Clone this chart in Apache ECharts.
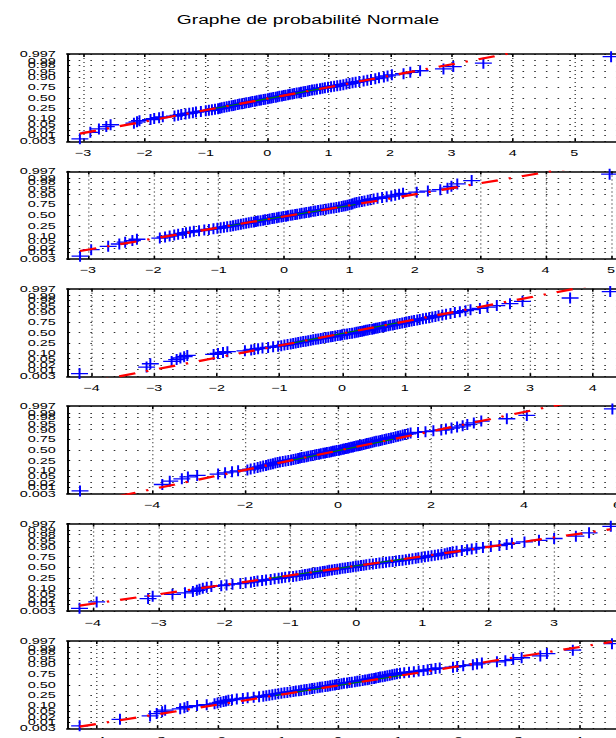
<!DOCTYPE html>
<html><head><meta charset="utf-8">
<script src="https://cdn.jsdelivr.net/npm/echarts@6/dist/echarts.min.js"></script>
<style>
html,body{margin:0;padding:0;background:#fff;overflow:hidden;width:616px;height:738px;}
#wrap{width:616px;height:738px;overflow:hidden;position:relative;background:#fff;}
#chart{position:absolute;left:0;top:0;width:385px;height:738px;transform:scaleX(1.6);transform-origin:0 0;}
</style></head><body><div id="wrap"><div id="chart"></div></div>
<script>
const chartTitle = 'Graphe de probabilité Normale';
const probTicks = [0.003, 0.01, 0.02, 0.05, 0.10, 0.25, 0.50, 0.75, 0.90, 0.95, 0.98, 0.99, 0.997];
const probTickLabels = ['0.003','0.01','0.02','0.05','0.10','0.25','0.50','0.75','0.90','0.95','0.98','0.99','0.997'];

const sample1 = [-3.05,-2.88,-2.74,-2.62,-2.55,-2.17,-2.12,-2.08,-1.90,-1.84,
-1.76,-1.70,-1.51,-1.45,-1.40,-1.33,-1.27,-1.21,-1.16,-1.08,
-1.00,-0.95,-0.90,-0.85,-0.80,-0.77,-0.74,-0.70,-0.66,-0.62,
-0.58,-0.55,-0.52,-0.48,-0.45,-0.41,-0.37,-0.34,-0.30,-0.27,
-0.24,-0.20,-0.17,-0.13,-0.10,-0.06,-0.03,0.01,0.04,0.07,
0.10,0.14,0.17,0.20,0.24,0.27,0.30,0.34,0.37,0.41,
0.44,0.48,0.52,0.55,0.59,0.62,0.66,0.69,0.73,0.77,
0.81,0.86,0.90,0.94,0.99,1.04,1.09,1.14,1.19,1.24,
1.29,1.34,1.39,1.44,1.50,1.57,1.63,1.69,1.76,1.82,
1.90,1.96,2.03,2.22,2.33,2.49,2.87,3.03,3.52,5.60];

const sample2 = [-3.12,-2.95,-2.69,-2.52,-2.43,-2.32,-2.25,-1.90,-1.82,-1.75,
-1.68,-1.62,-1.55,-1.50,-1.44,-1.38,-1.30,-1.22,-1.15,-1.08,
-1.02,-0.97,-0.92,-0.87,-0.82,-0.78,-0.74,-0.70,-0.66,-0.62,
-0.58,-0.54,-0.50,-0.46,-0.43,-0.40,-0.36,-0.32,-0.29,-0.25,
-0.22,-0.18,-0.15,-0.11,-0.08,-0.04,-0.01,0.03,0.06,0.10,
0.13,0.17,0.20,0.24,0.27,0.31,0.34,0.38,0.41,0.45,
0.48,0.52,0.56,0.60,0.64,0.68,0.72,0.76,0.80,0.84,
0.88,0.91,0.94,0.97,1.00,1.03,1.05,1.08,1.11,1.15,
1.19,1.23,1.28,1.32,1.37,1.43,1.50,1.57,1.64,1.70,
1.76,1.82,2.03,2.20,2.39,2.50,2.56,2.65,2.87,4.98];

const sample3 = [-4.19,-3.12,-3.06,-2.72,-2.64,-2.58,-2.52,-2.47,-2.05,-1.98,
-1.90,-1.83,-1.55,-1.45,-1.40,-1.34,-1.27,-1.18,-1.10,-1.02,
-0.97,-0.92,-0.87,-0.82,-0.78,-0.74,-0.70,-0.66,-0.62,-0.58,
-0.54,-0.50,-0.46,-0.42,-0.38,-0.34,-0.30,-0.26,-0.22,-0.18,
-0.15,-0.11,-0.07,-0.03,0.00,0.04,0.08,0.12,0.16,0.20,
0.23,0.26,0.29,0.32,0.35,0.38,0.41,0.44,0.48,0.51,
0.54,0.57,0.60,0.64,0.67,0.70,0.74,0.77,0.81,0.84,
0.88,0.92,0.96,1.00,1.03,1.07,1.11,1.15,1.20,1.24,
1.29,1.34,1.39,1.44,1.49,1.54,1.60,1.66,1.73,1.80,
1.88,1.97,2.05,2.20,2.32,2.47,2.68,2.88,3.64,4.28];

const sample4 = [-5.55,-3.78,-3.62,-3.36,-3.23,-3.03,-2.58,-2.43,-2.28,-2.15,
-1.95,-1.88,-1.80,-1.73,-1.67,-1.61,-1.55,-1.50,-1.45,-1.40,
-1.35,-1.30,-1.25,-1.19,-1.13,-1.07,-1.01,-0.96,-0.91,-0.86,
-0.82,-0.78,-0.73,-0.68,-0.64,-0.59,-0.55,-0.50,-0.46,-0.41,
-0.37,-0.32,-0.28,-0.24,-0.19,-0.15,-0.11,-0.07,-0.03,0.02,
0.06,0.10,0.13,0.17,0.21,0.24,0.28,0.32,0.35,0.39,
0.43,0.47,0.51,0.55,0.59,0.62,0.66,0.70,0.74,0.78,
0.82,0.87,0.91,0.95,1.00,1.04,1.09,1.14,1.19,1.24,
1.29,1.34,1.39,1.44,1.50,1.56,1.72,1.88,2.05,2.22,
2.32,2.44,2.56,2.68,2.78,2.92,3.08,3.63,4.06,5.90];

const sample5 = [-4.20,-3.94,-3.16,-3.09,-2.79,-2.60,-2.48,-2.42,-2.38,-2.33,
-2.27,-2.20,-2.05,-1.97,-1.88,-1.76,-1.68,-1.60,-1.55,-1.50,
-1.43,-1.37,-1.30,-1.24,-1.18,-1.13,-1.08,-1.02,-0.96,-0.91,
-0.86,-0.82,-0.78,-0.74,-0.71,-0.67,-0.63,-0.59,-0.55,-0.51,
-0.48,-0.44,-0.41,-0.37,-0.33,-0.29,-0.25,-0.21,-0.17,-0.13,
-0.09,-0.05,-0.01,0.03,0.07,0.11,0.15,0.20,0.25,0.30,
0.35,0.40,0.45,0.50,0.55,0.60,0.65,0.70,0.75,0.80,
0.85,0.90,0.94,0.99,1.04,1.09,1.14,1.19,1.24,1.29,
1.34,1.38,1.42,1.46,1.52,1.60,1.68,1.75,1.82,1.92,
2.04,2.17,2.28,2.36,2.55,2.77,3.00,3.33,3.53,3.86];

const sample6 = [-4.29,-3.62,-3.12,-3.01,-2.92,-2.87,-2.62,-2.55,-2.50,-2.34,
-2.18,-2.05,-2.00,-1.95,-1.90,-1.86,-1.82,-1.76,-1.68,-1.58,
-1.50,-1.40,-1.31,-1.24,-1.19,-1.14,-1.09,-1.04,-0.99,-0.94,
-0.89,-0.84,-0.79,-0.74,-0.70,-0.65,-0.61,-0.56,-0.52,-0.47,
-0.43,-0.39,-0.34,-0.30,-0.26,-0.21,-0.17,-0.13,-0.09,-0.05,
-0.02,0.02,0.06,0.10,0.15,0.19,0.23,0.28,0.32,0.36,
0.41,0.45,0.49,0.52,0.56,0.60,0.63,0.67,0.70,0.74,
0.78,0.82,0.86,0.90,0.94,0.98,1.03,1.10,1.18,1.26,
1.34,1.42,1.49,1.55,1.62,1.69,1.91,1.98,2.08,2.24,
2.31,2.39,2.64,2.78,2.91,3.05,3.36,3.47,3.90,4.55];

const samples = [sample1, sample2, sample3, sample4, sample5, sample6];
const xMins = [-3.26, -3.32, -4.39, -5.83, -4.39, -4.50];
const xMaxs = [5.81, 5.20, 4.50, 6.15, 4.06, 4.75];
const xTickSets = [
  [-3,-2,-1,0,1,2,3,4,5],
  [-3,-2,-1,0,1,2,3,4,5],
  [-4,-3,-2,-1,0,1,2,3,4],
  [-4,-2,0,2,4,6],
  [-4,-3,-2,-1,0,1,2,3,4],
  [-4,-3,-2,-1,0,1,2,3,4]
];
const fitMu = [0.08, 0.12, 0.08, 0.07, -0.16, 0.08];
const fitSigma = [1.39, 1.44, 1.32, 1.65, 1.68, 1.66];

function probit(p){
  const a=[-3.969683028665376e+01,2.209460984245205e+02,-2.759285104469687e+02,1.383577518672690e+02,-3.066479806614716e+01,2.506628277459239e+00];
  const b=[-5.447609879822406e+01,1.615858368580409e+02,-1.556989798598866e+02,6.680131188771972e+01,-1.328068155288572e+01];
  const c=[-7.784894002430293e-03,-3.223964580411365e-01,-2.400758277161838e+00,-2.549732539343734e+00,4.374664141464968e+00,2.938163982698783e+00];
  const d=[7.784695709041462e-03,3.224671290700398e-01,2.445134137142996e+00,3.754408661907416e+00];
  const pl=0.02425, ph=1-pl; let q, r;
  if (p < pl) { q=Math.sqrt(-2*Math.log(p)); return (((((c[0]*q+c[1])*q+c[2])*q+c[3])*q+c[4])*q+c[5])/((((d[0]*q+d[1])*q+d[2])*q+d[3])*q+1); }
  if (p > ph) { q=Math.sqrt(-2*Math.log(1-p)); return -(((((c[0]*q+c[1])*q+c[2])*q+c[3])*q+c[4])*q+c[5])/((((d[0]*q+d[1])*q+d[2])*q+d[3])*q+1); }
  q=p-0.5; r=q*q;
  return (((((a[0]*r+a[1])*r+a[2])*r+a[3])*r+a[4])*r+a[5])*q/(((((b[0]*r+b[1])*r+b[2])*r+b[3])*r+b[4])*r+1);
}

const S = 1.6;
const plotLeft = 67 / S, plotWidth = (624 - 67) / S;
const plotTops = [54, 171.4, 288.8, 406.2, 523.6, 641];
const plotH = 87.5;
const FONT = 'Liberation Sans';
const zTicks = probTicks.map(probit);
const zTicksA = zTicks.filter((z, i) => i % 2 === 0);
const zTicksB = zTicks.filter((z, i) => i % 2 === 1);
const zMin = zTicks[0] - 1e-9, zMax = zTicks[zTicks.length-1] + 1e-9;

function yFmt(v){
  let best = 0, bd = Infinity;
  zTicks.forEach((z,i)=>{ const dd=Math.abs(z-v); if(dd<bd){bd=dd;best=i;} });
  return probTickLabels[best];
}
function xFmt(v){ return (v < 0 ? '\u2212' : '') + Math.abs(v); }

const yLabelStyle = {show: true, formatter: yFmt, margin: 7, color: '#000', fontFamily: FONT, fontSize: 9,
  hideOverlap: false, showMinLabel: true, showMaxLabel: true};

const grid = [], xAxis = [], yAxis = [], series = [];
samples.forEach((smp, k) => {
  grid.push({left: plotLeft, top: plotTops[k], width: plotWidth, height: plotH, outerBoundsMode: 'none', containLabel: false});
  xAxis.push({
    type: 'value', gridIndex: k, position: 'bottom', min: xMins[k], max: xMaxs[k],
    axisLine: {show: true, onZero: false, lineStyle: {color: '#000', width: 1.5}},
    axisTick: {show: true, inside: true, length: 3, customValues: xTickSets[k], lineStyle: {color: '#000', width: 1}},
    axisLabel: {show: true, customValues: xTickSets[k], formatter: xFmt, margin: 7, color: '#000', fontFamily: FONT, fontSize: 9, hideOverlap: false},
    splitLine: {show: true, lineStyle: {color: '#333', width: 0.8, type: [1, 3]}}
  });
  xAxis.push({
    type: 'value', gridIndex: k, position: 'top', min: xMins[k], max: xMaxs[k],
    axisLine: {show: true, onZero: false, lineStyle: {color: '#000', width: 1.5}},
    axisTick: {show: true, inside: true, length: 3, customValues: xTickSets[k], lineStyle: {color: '#000', width: 1}},
    axisLabel: {show: false},
    splitLine: {show: false}
  });
  yAxis.push({
    type: 'value', gridIndex: k, position: 'left', offset: 0, min: zMin, max: zMax,
    axisLine: {show: true, onZero: false, lineStyle: {color: '#000', width: 1.2}},
    axisTick: {show: true, inside: true, length: 2, customValues: zTicks, lineStyle: {color: '#000', width: 1}},
    axisLabel: Object.assign({customValues: zTicksA}, yLabelStyle),
    splitLine: {show: true, lineStyle: {color: '#333', width: 1, type: [1, 6.3]}}
  });
  yAxis.push({
    type: 'value', gridIndex: k, position: 'left', offset: 0, min: zMin, max: zMax,
    axisLine: {show: false}, axisTick: {show: false, customValues: zTicksB},
    axisLabel: Object.assign({customValues: zTicksB}, yLabelStyle),
    splitLine: {show: false}
  });
  const n = smp.length;
  const pts = smp.map((v, i) => [v, probit((i + 0.5) / n)]);
  series.push({
    type: 'scatter', xAxisIndex: 2*k, yAxisIndex: 2*k, data: pts,
    symbol: 'path://M5,0L5,10M0,5L10,5', symbolSize: [10.6, 11],
    itemStyle: {color: '#0000ff', borderColor: '#0000ff', borderWidth: 1.25, opacity: 1},
    emphasis: {disabled: true}, silent: true
  });
  const mu = fitMu[k], sg = fitSigma[k];
  series.push({
    type: 'line', xAxisIndex: 2*k, yAxisIndex: 2*k, showSymbol: false, silent: true, clip: true,
    data: [[mu - 0.6745*sg, -0.6745], [mu + 0.6745*sg, 0.6745]],
    lineStyle: {color: '#008000', width: 1}
  });
  const vmin = smp[0], vmax = smp[n-1];
  series.push({
    type: 'line', xAxisIndex: 2*k, yAxisIndex: 2*k, showSymbol: false, silent: true, clip: true,
    data: [[vmin, (vmin - mu)/sg], [vmax, (vmax - mu)/sg]],
    lineStyle: {color: '#ff0000', width: 2.2, type: [10.5, 7, 1.5, 7]}
  });
});

const chart = echarts.init(document.getElementById('chart'), null, {renderer: 'svg'});
chart.setOption({
  animation: false,
  backgroundColor: '#fff',
  title: {text: chartTitle, left: 'center', top: 9, textStyle: {fontFamily: FONT, fontSize: 12, fontWeight: 'normal', color: '#000'}},
  grid, xAxis, yAxis, series
});
</script></body></html>
